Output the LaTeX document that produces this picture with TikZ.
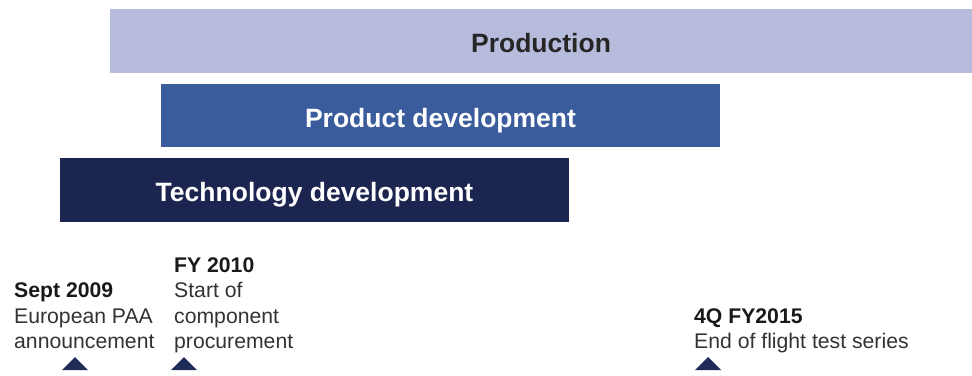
\documentclass[tikz,border=0pt]{standalone}
\usepackage{fontspec}
\setmainfont{Liberation Sans}
\usetikzlibrary{positioning}
\definecolor{prodlight}{HTML}{B8BCDC}
\definecolor{devblue}{HTML}{3A5C9C}
\definecolor{technavy}{HTML}{1C2550}
\definecolor{marknavy}{HTML}{1F2C58}
\definecolor{labelgray}{HTML}{333333}
\tikzset{
  phasebar/.style={minimum height=63.5pt, inner sep=0pt, text height=23pt, text depth=0pt,
    font=\fontsize{26.5}{30}\selectfont\bfseries},
  milestone/.style={anchor=base west, align=left, inner sep=0pt, text=labelgray,
    font=\fontsize{21.2}{25.4}\selectfont},
}
\begin{document}
\begin{tikzpicture}[x=1pt,y=-1pt]
  \useasboundingbox (0,0) rectangle (972,375);
  % phase bars
  \node[phasebar, fill=prodlight, text=black!85, minimum width=862pt] (production) at (541,41) {Production};
  \node[phasebar, fill=devblue, text=white, minimum width=559pt] (productdev) at (440.5,115.5) {Product development};
  \node[phasebar, fill=technavy, text=white, minimum width=509pt] (techdev) at (314.5,190) {Technology development};
  % milestones (anchored at the baseline of the last line)
  \node[milestone] (sept) at (14,348.5) {\textbf{\color{black!90}Sept 2009}\\European PAA\\announcement};
  \node[milestone] (fy) at (174,348.5) {\textbf{\color{black!90}FY 2010}\\Start of\\component\\procurement};
  \node[milestone] (fourq) at (694,348.5) {\textbf{\color{black!90}4Q FY2015}\\End of flight test series};
  \foreach \x in {75,184,708} % markers under the labels
    \fill[marknavy] (\x-13,370) -- (\x,357) -- (\x+13,370) -- cycle;
\end{tikzpicture}
\end{document}
